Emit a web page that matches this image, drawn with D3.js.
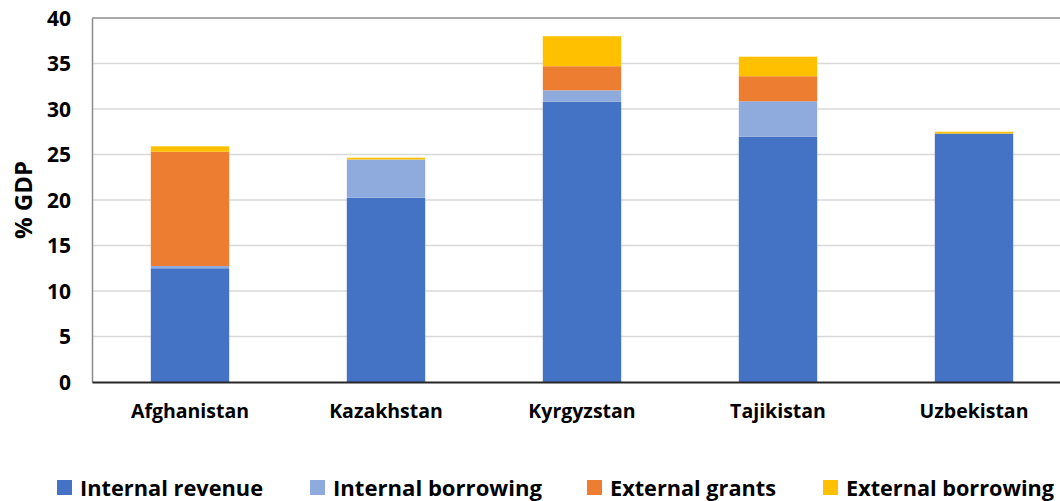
<!DOCTYPE html>
<html>
<head>
<meta charset="utf-8">
<script src="https://cdn.jsdelivr.net/npm/d3@7"></script>
<style>
  html, body { margin: 0; padding: 0; background: #fff; }
  svg { display: block; }
  text { font-family: "Open Sans", Lato, sans-serif; font-weight: 700; fill: #000; }
</style>
</head>
<body>
<svg id="chart" width="1060" height="501"></svg>
<script>
// Financing sources, % of GDP
const countries = ["Afghanistan", "Kazakhstan", "Kyrgyzstan", "Tajikistan", "Uzbekistan"];
const seriesNames = ["Internal revenue", "Internal borrowing", "External grants", "External borrowing"];
const internalRevenue   = [12.5, 20.25, 30.8, 26.95, 27.3];
const internalBorrowing = [0.25, 4.2, 1.25, 3.9, 0.0];
const externalGrants    = [12.55, 0.0, 2.65, 2.75, 0.0];
const externalBorrowing = [0.6, 0.2, 3.3, 2.15, 0.2];
const yTicks = [0, 5, 10, 15, 20, 25, 30, 35, 40];
const colors = ["#4472c4", "#8faadc", "#ed7d31", "#ffc000"];

const seriesValues = [internalRevenue, internalBorrowing, externalGrants, externalBorrowing];
const rows = countries.map((c, i) => {
  const r = { country: c };
  seriesNames.forEach((s, k) => { r[s] = seriesValues[k][i]; });
  return r;
});

const svg = d3.select("#chart");
const plotLeft = 92, plotTop = 18, plotBottom = 382, plotRight = 1072;
const fontFamily = "'Open Sans', Lato, sans-serif";

const x = d3.scaleBand().domain(countries).range([plotLeft, plotRight]).paddingInner(0.6).paddingOuter(0.3);
const y = d3.scaleLinear().domain([0, 40]).range([plotBottom, plotTop]);

// gridlines
svg.append("g").selectAll("line")
  .data(yTicks.filter(t => t > 0))
  .join("line")
  .attr("x1", plotLeft).attr("x2", 1060)
  .attr("y1", d => y(d)).attr("y2", d => y(d))
  .attr("stroke", d => d === 40 ? "#8c8c8c" : "#d9d9d9")
  .attr("stroke-width", 1.5);

// stacked bars
const stack = d3.stack().keys(seriesNames)(rows);
svg.append("g").selectAll("g")
  .data(stack)
  .join("g")
  .attr("fill", (d, i) => colors[i])
  .selectAll("rect")
  .data(d => d)
  .join("rect")
  .attr("x", d => x(d.data.country))
  .attr("width", x.bandwidth())
  .attr("y", d => y(d[1]))
  .attr("height", d => Math.max(0, y(d[0]) - y(d[1])));

// y axis
const yAxis = svg.append("g")
  .attr("transform", `translate(${plotLeft},0)`)
  .call(d3.axisLeft(y).tickValues(yTicks).tickSize(0).tickPadding(21));
yAxis.select(".domain").attr("stroke", "#8c8c8c").attr("stroke-width", 1.5);
yAxis.selectAll("text").style("font-size", "21px").attr("dy", "0.35em")
  .style("font-family", fontFamily).style("font-weight", 700).attr("fill", "#000");

// x axis
const xAxis = svg.append("g")
  .attr("transform", `translate(0,${plotBottom})`)
  .call(d3.axisBottom(x).tickSize(0).tickPadding(22));
xAxis.select(".domain").attr("stroke", "#262626").attr("stroke-width", 2);
xAxis.selectAll("text").style("font-size", "19.5px")
  .style("font-family", fontFamily).style("font-weight", 700).attr("fill", "#000");

// y title
svg.append("text")
  .attr("transform", "translate(32,200) rotate(-90)")
  .attr("text-anchor", "middle")
  .style("font-size", "24px")
  .text("% GDP");

// legend
const legendX = [57, 310, 587, 823];
const legendW = [183, 209, 166, 208];
const legend = svg.append("g").selectAll("g")
  .data(seriesNames)
  .join("g")
  .attr("transform", (d, i) => `translate(${legendX[i]},0)`);
legend.append("rect")
  .attr("x", 0).attr("y", 480).attr("width", 15).attr("height", 15)
  .attr("fill", (d, i) => colors[i]);
legend.append("text")
  .attr("x", 23).attr("y", 496)
  .style("font-size", "22px")
  .attr("textLength", (d, i) => legendW[i])
  .attr("lengthAdjust", "spacingAndGlyphs")
  .text(d => d);
</script>
</body>
</html>
